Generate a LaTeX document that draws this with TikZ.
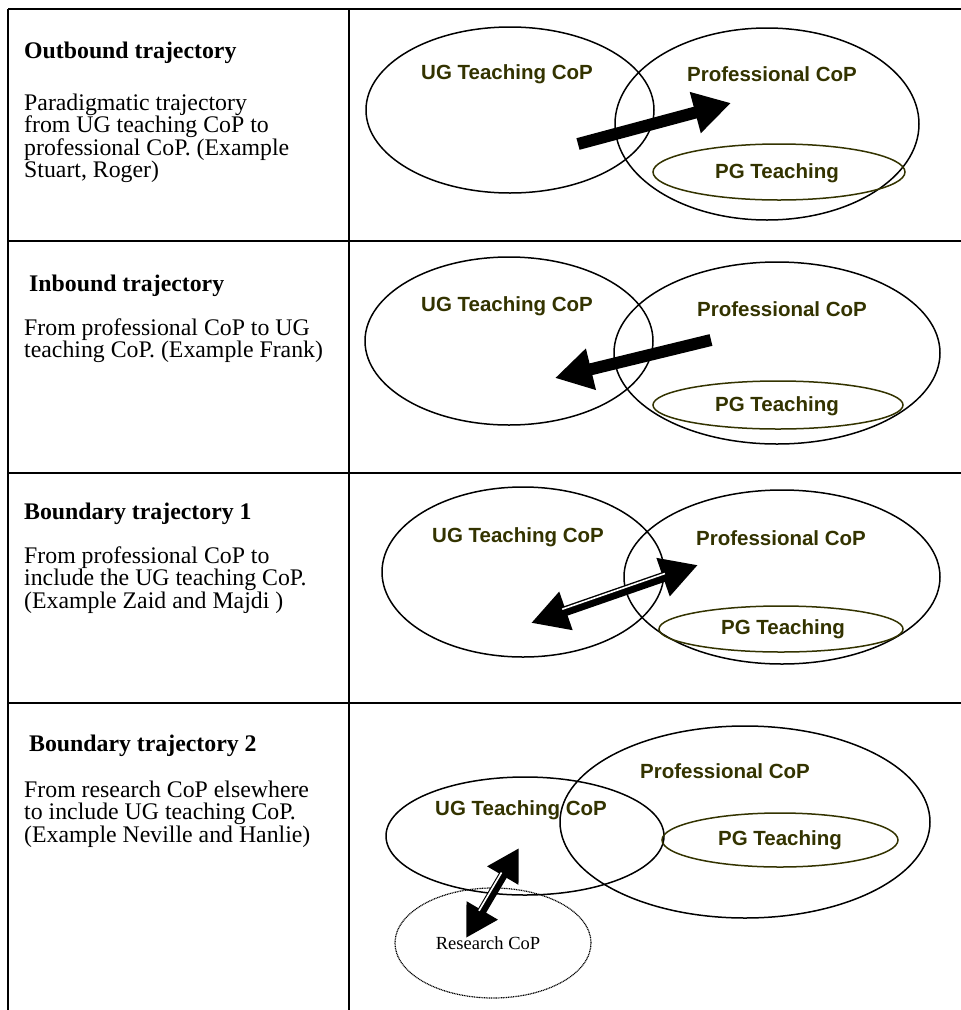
\documentclass[tikz,border=0pt]{standalone}
\usepackage{fontspec}
\setmainfont{Liberation Serif}
\newfontfamily\arialfont{Liberation Sans}
\usetikzlibrary{shapes.geometric,arrows.meta,calc}
\definecolor{labcol}{HTML}{333300}
\tikzset{
  ell/.style={ellipse, draw, line width=1.5pt, inner sep=0pt},
  pgell/.style={ellipse, draw=labcol, line width=1.5pt, inner sep=0pt},
  rsell/.style={ellipse, draw, line width=1.2pt, dash pattern=on 1pt off 0.7pt, inner sep=0pt},
  lab/.style={font=\arialfont\bfseries\fontsize{20.5}{23}\selectfont, text=labcol, inner sep=0pt},
  rlab/.style={font=\fontsize{18.5}{21}\selectfont, inner sep=0pt},
  ttl/.style={font=\bfseries\fontsize{23.8}{22.4}\selectfont, anchor=base west, inner sep=0pt},
  body/.style={font=\fontsize{23.8}{22.4}\selectfont, anchor=base west, inner sep=0pt},
  gridline/.style={line width=2pt},
  fat/.style={line width=12pt, -{Triangle[length=37pt,width=40pt]}},
  fatboth/.style={line width=10pt, {Triangle[length=37pt,width=38pt]}-{Triangle[length=37pt,width=38pt]}},
  fatbothsm/.style={line width=9pt, {Triangle[length=32pt,width=34pt]}-{Triangle[length=32pt,width=34pt]}},
  stripe/.style={white, line width=1.6pt},
}
\begin{document}
\begin{tikzpicture}[x=1pt,y=-1pt]
\useasboundingbox (0,0) rectangle (961,1010);
% table
\coordinate (tl) at (8,9); \coordinate (tr) at (961,9);
\coordinate (ml) at (349,9); \coordinate (mb) at (349,1010);
\coordinate (lb) at (8,1010);
\coordinate (h1l) at (8,241); \coordinate (h1r) at (961,241);
\coordinate (h2l) at (8,473); \coordinate (h2r) at (961,473);
\coordinate (h3l) at (8,703); \coordinate (h3r) at (961,703);
\draw[gridline] (tl) -- (tr);
\draw[gridline] (tl) -- (lb);
\draw[gridline] (ml) -- (mb);
\draw[gridline] (h1l) -- (h1r);
\draw[gridline] (h2l) -- (h2r);
\draw[gridline] (h3l) -- (h3r);

% left texts
\node[ttl] (t1) at (24,58) {Outbound trajectory};
\node[body] (b1a) at (24,110) {Paradigmatic trajectory};
\node[body] (b1b) at (24,132) {from UG teaching CoP to};
\node[body] (b1c) at (24,155) {professional CoP. (Example};
\node[body] (b1d) at (24,177) {Stuart, Roger)};

\node[ttl] (t2) at (29,291) {Inbound trajectory};
\node[body] (b2a) at (24,335) {From professional CoP to UG};
\node[body] (b2b) at (24,357) {teaching CoP. (Example Frank)};

\node[ttl] (t3) at (24,519) {Boundary trajectory 1};
\node[body] (b3a) at (24,563) {From professional CoP to};
\node[body] (b3b) at (24,585) {include the UG teaching CoP.};
\node[body] (b3c) at (24,608) {(Example Zaid and Majdi )};

\node[ttl] (t4) at (29,751) {Boundary trajectory 2};
\node[body] (b4a) at (24,797) {From research CoP elsewhere};
\node[body] (b4b) at (24,819) {to include UG teaching CoP.};
\node[body] (b4c) at (24,842) {(Example Neville and Hanlie)};

% row 1
\node[ell, minimum width=288pt, minimum height=166pt] (ug1) at (510,110) {};
\node[ell, minimum width=304pt, minimum height=192pt] (pr1) at (767,124) {};
\node[pgell, minimum width=252pt, minimum height=56pt] (pg1) at (779,172) {};
\node[lab] (lug1) at (507,74) {UG Teaching CoP};
\node[lab] (lpr1) at (772,74) {Professional CoP};
\node[lab] (lpg1) at (777,173) {PG Teaching};
\coordinate (a1s) at (578,144); \coordinate (a1e) at (731,103);
\draw[fat] (a1s) -- (a1e);

% row 2
\node[ell, minimum width=288pt, minimum height=168pt] (ug2) at (509,341) {};
\node[ell, minimum width=326pt, minimum height=182pt] (pr2) at (777,353) {};
\node[pgell, minimum width=250pt, minimum height=48pt] (pg2) at (778,405) {};
\node[lab] (lug2) at (507,306) {UG Teaching CoP};
\node[lab] (lpr2) at (782,309) {Professional CoP};
\node[lab] (lpg2) at (777,406) {PG Teaching};
\coordinate (a2s) at (711,340); \coordinate (a2e) at (555,378);
\draw[fat] (a2s) -- (a2e);

% row 3
\node[ell, minimum width=282pt, minimum height=170pt] (ug3) at (523,572) {};
\node[ell, minimum width=316pt, minimum height=174pt] (pr3) at (782,577) {};
\node[pgell, minimum width=244pt, minimum height=46pt] (pg3) at (781,629) {};
\node[lab] (lug3) at (518,537) {UG Teaching CoP};
\node[lab] (lpr3) at (781,538) {Professional CoP};
\node[lab] (lpg3) at (783,629) {PG Teaching};
\coordinate (a3s) at (531,623); \coordinate (a3e) at (698,565);
\draw[fatboth] (a3s) -- (a3e);
\draw[stripe] ($($(a3s)!34pt!(a3e)$)!2.8pt!90:(a3e)$) -- ($($(a3e)!34pt!(a3s)$)!2.8pt!-90:(a3s)$);

% row 4
\node[ell, minimum width=278pt, minimum height=118pt] (ug4) at (525,836) {};
\node[ell, minimum width=370pt, minimum height=192pt] (pr4) at (745,822) {};
\node[pgell, minimum width=236pt, minimum height=54pt] (pg4) at (780,840) {};
\node[rsell, minimum width=196pt, minimum height=110pt] (rs4) at (493,943) {};
\node[lab] (lug4) at (521,810) {UG Teaching CoP};
\node[lab] (lpr4) at (725,771) {Professional CoP};
\node[lab] (lpg4) at (780,840) {PG Teaching};
\node[rlab] (lrs4) at (488,943) {Research CoP};
\coordinate (a4s) at (466,938); \coordinate (a4e) at (519,848);
\draw[fatbothsm] (a4s) -- (a4e);
\draw[stripe] ($($(a4s)!30pt!(a4e)$)!2.6pt!90:(a4e)$) -- ($($(a4e)!30pt!(a4s)$)!2.6pt!-90:(a4s)$);
\end{tikzpicture}
\end{document}
